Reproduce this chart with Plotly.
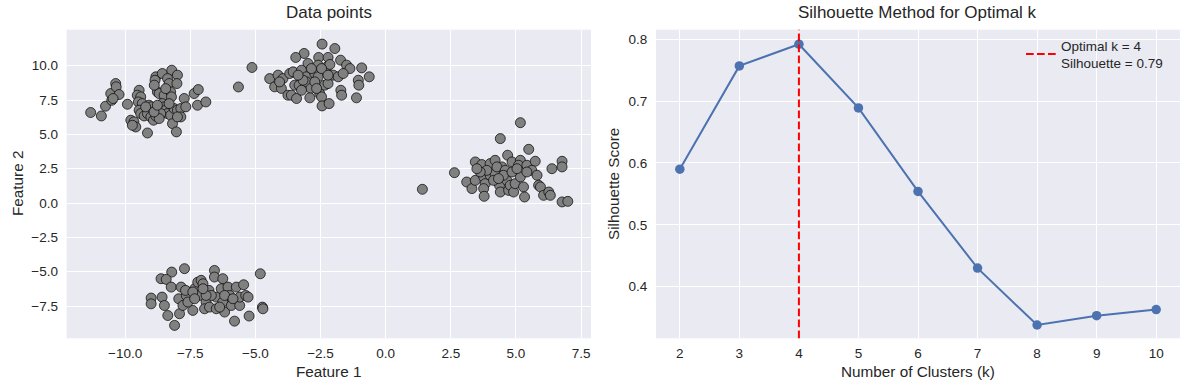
import plotly.graph_objects as go

# ---------------- data: clusters (Feature 1, Feature 2) ----------------
c1_x = [-11.32, -10.91, -10.75, -10.51, -10.55, -10.36, -10.34, -10.23, -10.46, -9.91,
        -9.78, -9.66, -9.59, -9.72, -9.46, -9.53, -9.40, -9.49, -9.34, -9.46,
        -9.40, -9.27, -9.14, -9.01, -9.08, -8.99, -8.91, -8.82, -8.76, -9.14,
        -8.82, -8.85, -8.57, -8.21, -7.99, -8.37, -8.31, -8.01, -8.76, -8.69,
        -8.50, -8.25, -8.22, -8.57, -8.50, -8.44, -8.37, -8.63, -8.69, -8.25,
        -8.18, -8.12, -7.99, -7.86, -7.73, -7.67, -7.86, -7.99, -8.03, -7.35,
        -7.19, -7.22, -6.90, -8.88, -8.44, -9.21, -8.89, -8.31, -8.76]
c1_y = [6.59, 6.34, 7.05, 7.48, 7.97, 8.70, 8.46, 7.90, 7.61, 7.19,
        6.03, 5.91, 5.54, 5.66, 8.21, 7.85, 7.73, 7.36, 7.24, 6.76,
        6.51, 6.34, 6.51, 6.27, 7.12, 7.00, 6.03, 6.34, 6.63, 5.10,
        9.19, 8.94, 9.43, 9.67, 9.31, 9.06, 8.70, 8.70, 8.09, 7.97,
        7.85, 8.09, 7.73, 7.24, 7.00, 6.76, 6.51, 6.51, 6.15, 6.39,
        5.78, 6.88, 6.76, 6.88, 7.61, 7.00, 6.27, 6.27, 5.18, 7.97,
        8.26, 7.12, 7.36, 8.58, 8.33, 7.00, 6.63, 7.24, 7.12]

c2_x = [-5.13, -5.65, -2.44, -1.95, -3.13, -3.45, -2.57, -2.21, -1.73, -1.50,
        -2.98, -2.59, -2.25, -2.14, -1.37, -0.92, -0.63, -1.05, -1.03, -1.12,
        -1.72, -1.69, -4.45, -4.13, -4.26, -4.00, -3.94, -3.68, -3.55, -3.75,
        -3.62, -3.42, -3.49, -3.32, -3.23, -3.04, -3.04, -2.87, -2.91, -2.72,
        -2.59, -2.53, -2.46, -2.44, -2.17, -2.34, -2.21, -2.01, -1.82, -1.63,
        -2.46, -2.85, -3.17, -3.36, -2.72, -2.21, -4.07, -3.23, -2.65]
c2_y = [9.87, 8.45, 11.57, 11.25, 10.89, 10.60, 10.60, 10.60, 10.40, 10.04,
        10.16, 10.04, 9.92, 10.09, 9.79, 9.84, 9.19, 8.94, 8.58, 7.66,
        8.21, 7.85, 9.06, 9.31, 8.46, 8.34, 9.06, 9.43, 9.55, 7.85,
        7.85, 7.61, 8.58, 8.58, 9.67, 9.19, 8.82, 8.34, 7.66, 9.43,
        9.19, 7.97, 7.73, 7.07, 7.24, 8.58, 8.70, 9.31, 9.19, 9.43,
        9.79, 9.79, 8.94, 9.31, 8.82, 9.31, 8.82, 8.21, 8.34]

c3_x = [1.41, 2.64, 4.40, 5.17, 5.49, 4.68, 3.44, 3.69, 4.01, 4.20,
        4.46, 4.85, 5.17, 5.10, 5.42, 5.74, 5.61, 5.81, 6.38, 6.77,
        6.77, 3.11, 3.31, 3.44, 3.76, 3.82, 3.76, 3.78, 4.01, 4.20,
        4.37, 4.40, 4.65, 4.72, 4.78, 4.91, 4.97, 5.17, 5.29, 5.33,
        5.87, 5.94, 6.06, 6.26, 6.32, 6.77, 6.99, 4.27, 4.59, 4.14,
        3.88, 3.63, 4.52, 4.85, 5.04, 5.42, 3.50, 4.33]
c3_y = [1.00, 2.21, 4.69, 5.85, 3.91, 3.48, 2.99, 2.80, 2.87, 3.11,
        2.63, 2.99, 3.11, 2.75, 2.75, 3.04, 2.38, 2.02, 2.50, 3.04,
        2.63, 1.53, 1.05, 1.65, 1.90, 1.41, 1.05, 0.49, 2.02, 2.14,
        1.29, 0.80, 1.65, 0.92, 1.29, 0.80, 1.41, 1.90, 1.17, 0.44,
        1.29, 1.17, 0.56, 0.80, 0.56, 0.08, 0.12, 2.63, 2.38, 1.65,
        2.38, 2.26, 2.02, 2.26, 2.50, 2.26, 2.50, 1.78]

c4_x = [-8.21, -7.72, -8.62, -8.42, -8.23, -7.85, -9.00, -9.00, -8.58, -8.49,
        -8.36, -8.10, -7.91, -7.94, -7.78, -7.65, -7.68, -7.40, -7.33, -7.21,
        -7.08, -7.01, -7.14, -6.89, -6.95, -6.76, -6.78, -6.57, -6.57, -6.25,
        -6.50, -6.50, -6.31, -6.25, -6.18, -6.05, -5.99, -5.92, -5.73, -5.80,
        -5.60, -5.60, -5.45, -5.37, -5.28, -5.24, -4.81, -4.73, -4.71, -7.40,
        -6.69, -6.89, -6.18, -7.01, -5.86, -6.37, -7.59, -7.33]
c4_y = [-5.03, -4.78, -5.51, -5.56, -6.12, -6.12, -6.92, -7.34, -6.85, -7.46,
        -8.19, -8.91, -8.06, -6.97, -7.46, -6.73, -6.36, -7.82, -6.24, -5.76,
        -5.63, -5.88, -6.73, -7.21, -7.70, -7.58, -6.36, -4.91, -5.39, -5.51,
        -6.85, -7.70, -6.24, -7.21, -7.94, -6.12, -6.73, -7.46, -6.12, -8.60,
        -7.46, -6.85, -5.95, -6.73, -6.85, -8.23, -5.15, -7.58, -7.70, -6.48,
        -6.73, -6.73, -6.73, -6.24, -6.97, -7.58, -7.21, -6.97]

# ---------------- data: silhouette ----------------
k_values = [2, 3, 4, 5, 6, 7, 8, 9, 10]
silhouette_scores = [0.590, 0.757, 0.792, 0.689, 0.554, 0.430, 0.338, 0.353, 0.363]
optimal_k = 4
optimal_score = 0.79

x_ticks_left = [-10.0, -7.5, -5.0, -2.5, 0.0, 2.5, 5.0, 7.5]
y_ticks_left = [-7.5, -5.0, -2.5, 0.0, 2.5, 5.0, 7.5, 10.0]
y_ticks_right = [0.4, 0.5, 0.6, 0.7, 0.8]

# ---------------- figure ----------------
W, H = 1189, 390
FONT = "Liberation Sans, Arial, Helvetica, sans-serif"
TXT = "#262626"
BG = "#EAEAF2"


def px(v):
    return v / W


def py(v):
    return 1 - v / H


all_x = c1_x + c2_x + c3_x + c4_x
all_y = c1_y + c2_y + c3_y + c4_y

fig = go.Figure()
fig.add_trace(go.Scatter(
    x=all_x, y=all_y, mode="markers", xaxis="x", yaxis="y", showlegend=False,
    marker=dict(size=10, color="#808080", line=dict(color="black", width=0.7)),
))
fig.add_trace(go.Scatter(
    x=k_values, y=silhouette_scores, mode="lines+markers", xaxis="x2", yaxis="y2",
    showlegend=False, line=dict(color="#4C72B0", width=2),
    marker=dict(size=9.5, color="#4C72B0"),
))
# legend proxy for the vertical line
fig.add_trace(go.Scatter(
    x=[None], y=[None], mode="lines", xaxis="x2", yaxis="y2",
    name=f"Optimal k = {optimal_k}<br>Silhouette = {optimal_score:.2f}",
    line=dict(color="red", width=2, dash="7.7px,3.3px"),
))
fig.add_shape(type="line", xref="x2", yref="y2 domain", x0=optimal_k, x1=optimal_k,
              y0=0, y1=1, line=dict(color="red", width=2, dash="7.7px,3.3px"))

xl = [px(66.7), px(591)]
xr = [px(656), px(1180)]
yd = [py(338.3), py(29.7)]

axis_common = dict(
    showgrid=True, gridcolor="white", gridwidth=1.3, zeroline=False, showline=False,
    ticks="outside", tickcolor="rgba(0,0,0,0)",
    tickfont=dict(family=FONT, size=13.5, color=TXT),
)

fig.update_layout(
    width=W, height=H, margin=dict(l=0, r=0, t=0, b=0),
    paper_bgcolor="white", plot_bgcolor=BG,
    font=dict(family=FONT, color=TXT),
    xaxis=dict(domain=xl, range=[-12.24, 7.88], tickvals=x_ticks_left, tickformat=".1f",
               anchor="y", ticklen=2, **axis_common),
    yaxis=dict(domain=yd, range=[-9.85, 12.62], tickvals=y_ticks_left, tickformat=".1f",
               anchor="x", ticklen=5, **axis_common),
    xaxis2=dict(domain=xr, range=[1.6, 10.4], tickvals=k_values, anchor="y2", ticklen=2,
                **axis_common),
    yaxis2=dict(domain=yd, range=[0.3165, 0.8155], tickvals=y_ticks_right, tickformat=".1f",
                anchor="x2", ticklen=5, **axis_common),
    legend=dict(x=px(1021), y=py(30), xanchor="left", yanchor="top",
                bgcolor="rgba(0,0,0,0)", font=dict(family=FONT, size=13.5, color=TXT),
                itemwidth=30, tracegroupgap=0),
)

cx_l = (xl[0] + xl[1]) / 2
cx_r = (xr[0] + xr[1]) / 2
ann = [
    dict(text="Data points", x=cx_l, y=py(12), size=17, angle=0),
    dict(text="Silhouette Method for Optimal k", x=cx_r, y=py(12), size=17, angle=0),
    dict(text="Feature 1", x=cx_l, y=py(371), size=15.3, angle=0),
    dict(text="Number of Clusters (k)", x=cx_r, y=py(371), size=15.3, angle=0),
    dict(text="Feature 2", x=px(17), y=(yd[0] + yd[1]) / 2, size=15.3, angle=-90),
    dict(text="Silhouette Score", x=px(613), y=(yd[0] + yd[1]) / 2, size=15.3, angle=-90),
]
for a in ann:
    fig.add_annotation(text=a["text"], x=a["x"], y=a["y"], xref="paper", yref="paper",
                       xanchor="center", yanchor="middle", showarrow=False, textangle=a["angle"],
                       font=dict(family=FONT, size=a["size"], color=TXT))

# remove the default 8px page margin so the figure sits at the window's top-left corner
fig.write_html("out.html", config={"displayModeBar": False},
               post_script="document.body.style.margin='0px';")
